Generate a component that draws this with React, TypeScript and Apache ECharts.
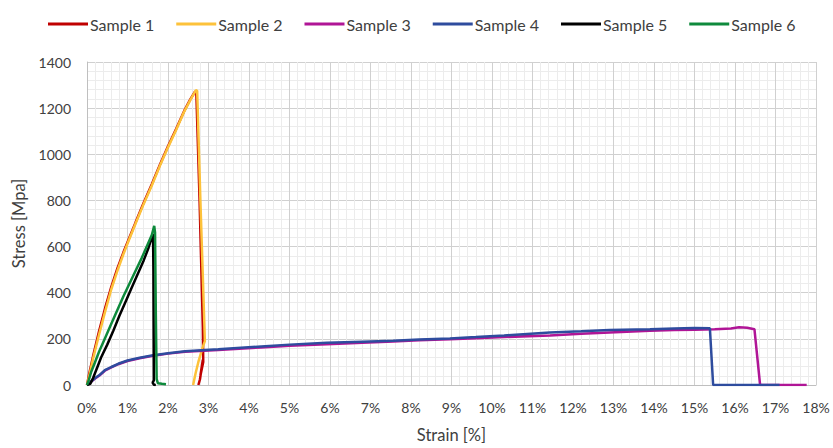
import React, { useEffect, useRef } from "react";
import * as echarts from "echarts";

const seriesNames = ["Sample 1", "Sample 2", "Sample 3", "Sample 4", "Sample 5", "Sample 6"];
const seriesColors = ["#C00000", "#FDC23A", "#B01596", "#2E4C9E", "#000000", "#0E8A3C"];

const xTicks = [0, 1, 2, 3, 4, 5, 6, 7, 8, 9, 10, 11, 12, 13, 14, 15, 16, 17, 18];
const yTicks = [0, 200, 400, 600, 800, 1000, 1200, 1400];

const s1Strain = [0, 0.05, 0.15, 0.3, 0.45, 0.6, 0.75, 0.9, 1.05, 1.2, 1.4, 1.6, 1.8, 2.0, 2.2, 2.4, 2.55, 2.67, 2.7, 2.78, 2.86, 2.87, 2.8, 2.86, 2.79, 2.75];
const s1Stress = [0, 45, 125, 235, 335, 425, 505, 575, 640, 705, 790, 870, 955, 1035, 1110, 1188, 1238, 1272, 1265, 800, 250, 100, 40, 110, 25, 0];

const s2Strain = [0, 0.05, 0.15, 0.3, 0.45, 0.6, 0.75, 0.9, 1.05, 1.2, 1.4, 1.6, 1.8, 2.0, 2.2, 2.4, 2.55, 2.69, 2.72, 2.8, 2.9, 2.91, 2.85, 2.75, 2.68, 2.62];
const s2Stress = [0, 35, 115, 220, 320, 415, 495, 568, 635, 700, 785, 865, 950, 1030, 1105, 1185, 1235, 1278, 1275, 800, 250, 190, 160, 100, 50, 0];

const s3Strain = [0, 0.1, 0.2, 0.3, 0.44, 0.6, 0.77, 1.0, 1.3, 1.6, 2.0, 2.42, 3.24, 4.3, 5.0, 5.92, 6.8, 7.56, 8.2, 8.96, 9.6, 10.3, 11.43, 12.2, 12.9, 13.9, 14.5, 15.0, 15.5, 15.9, 16.1, 16.3, 16.48, 16.62, 17.77];
const s3Stress = [0, 14, 28, 40, 62, 76, 90, 104, 116, 126, 136, 144, 152, 163, 170, 177, 183, 188, 194, 198, 203, 208, 215, 222, 228, 235, 238, 240, 242, 245, 250, 248, 242, 0, 0];

const s4Strain = [0, 0.1, 0.2, 0.3, 0.44, 0.6, 0.77, 1.0, 1.3, 1.6, 2.0, 2.42, 3.24, 4.3, 5.0, 5.92, 6.8, 7.56, 8.2, 8.96, 9.6, 10.3, 11.43, 12.2, 12.9, 13.9, 14.5, 15.0, 15.38, 15.46, 17.1];
const s4Stress = [0, 15, 30, 42, 64, 78, 92, 106, 118, 128, 138, 146, 155, 167, 175, 183, 188, 192, 197, 202, 208, 215, 228, 233, 238, 242, 245, 247, 246, 0, 0];

const s5Strain = [0, 0.08, 0.15, 0.25, 0.35, 0.5, 0.65, 0.8, 0.95, 1.1, 1.25, 1.4, 1.52, 1.6, 1.63, 1.64, 1.65, 1.62, 1.66, 1.7];
const s5Stress = [0, 5, 30, 75, 120, 175, 235, 300, 360, 420, 480, 540, 595, 640, 655, 500, 20, 10, 0, 0];

const s6Strain = [0, 0.05, 0.1, 0.2, 0.3, 0.45, 0.6, 0.75, 0.9, 1.05, 1.2, 1.35, 1.5, 1.6, 1.66, 1.68, 1.7, 1.72, 1.75, 1.85, 1.95];
const s6Stress = [0, 25, 55, 100, 145, 205, 265, 325, 385, 440, 495, 550, 610, 650, 690, 660, 300, 25, 8, 5, 3];

const strains = [s1Strain, s2Strain, s3Strain, s4Strain, s5Strain, s6Strain];
const stresses = [s1Stress, s2Stress, s3Stress, s4Stress, s5Stress, s6Stress];

const FONT = "Lato";

export default function App() {
  const ref = useRef<HTMLDivElement>(null);
  useEffect(() => {
    if (!ref.current) return;
    const chart = echarts.init(ref.current, undefined, { renderer: "svg" });
    const series = seriesNames.map((name, i) => ({
      name,
      type: "line",
      data: strains[i].map((x, j) => [x, stresses[i][j]]),
      showSymbol: false,
      symbol: "none",
      lineStyle: { width: 2.5, color: seriesColors[i] },
      itemStyle: { color: seriesColors[i] },
      z: 2 + i,
    }));
    chart.setOption({
      animation: false,
      backgroundColor: "#ffffff",
      textStyle: { fontFamily: FONT },
      legend: {
        data: seriesNames,
        top: 11,
        left: 43,
        icon: "rect",
        itemWidth: 40,
        itemHeight: 3,
        itemGap: 22,
        textStyle: { fontFamily: FONT, fontSize: 16, color: "#404040", padding: [0, 0, 0, -3] },
      },
      grid: { left: 87, right: 17, top: 62, bottom: 60 },
      xAxis: {
        type: "value",
        min: xTicks[0],
        max: xTicks[xTicks.length - 1],
        interval: 1,
        name: "Strain [%]",
        nameLocation: "middle",
        nameGap: 41,
        nameTextStyle: { fontFamily: FONT, fontSize: 16.5, color: "#404040" },
        axisLine: { show: true, lineStyle: { color: "#bfbfbf", width: 1 } },
        axisTick: { show: false },
        minorTick: { show: false, splitNumber: 5 },
        axisLabel: { formatter: "{value}%", fontFamily: FONT, fontSize: 14, color: "#404040", margin: 15 },
        splitLine: { show: true, lineStyle: { color: "#d0d0d0", width: 1 } },
        minorSplitLine: { show: true, lineStyle: { color: "#ececec", width: 1 } },
      },
      yAxis: {
        type: "value",
        min: yTicks[0],
        max: yTicks[yTicks.length - 1],
        interval: 200,
        name: "Stress [Mpa]",
        nameLocation: "middle",
        nameGap: 58,
        nameTextStyle: { fontFamily: FONT, fontSize: 16.5, color: "#404040" },
        axisLine: { show: true, lineStyle: { color: "#bfbfbf", width: 1 } },
        axisTick: { show: false },
        minorTick: { show: false, splitNumber: 5 },
        axisLabel: { formatter: (v: number) => String(v), fontFamily: FONT, fontSize: 14, color: "#404040", margin: 16 },
        splitLine: { show: true, lineStyle: { color: "#d0d0d0", width: 1 } },
        minorSplitLine: { show: true, lineStyle: { color: "#ececec", width: 1 } },
      },
      series,
    });
    return () => chart.dispose();
  }, []);
  return (
    <div
      ref={ref}
      style={{ position: "fixed", left: 0, top: 0, width: 833, height: 448, background: "#fff" }}
    />
  );
}
